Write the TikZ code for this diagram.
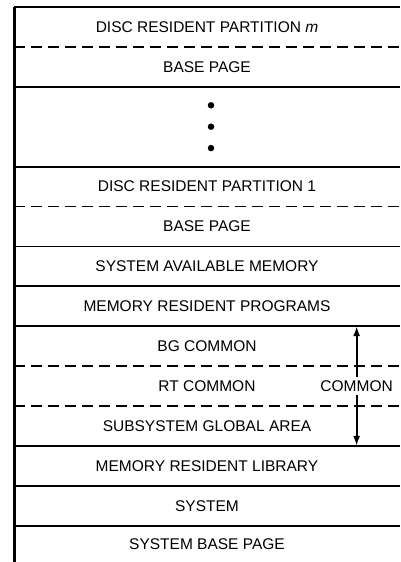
\documentclass[tikz,border=0pt]{standalone}
\usepackage{fontspec}
\setmainfont{Liberation Sans}
\usetikzlibrary{positioning,arrows.meta}

\begin{document}
\begin{tikzpicture}[x=1pt, y=-1pt, >={Latex[length=10pt,width=7pt]}, node distance=0pt,
    every node/.style={font=\fontsize{15.5}{18}\selectfont},
    rowbox/.style={minimum width=386pt, minimum height=39.9pt, inner sep=0pt, outer sep=0pt},
    split/.style={line width=1.8pt},
    softsplit/.style={line width=1.8pt, dash pattern=on 11pt off 6pt},
    dot/.style={circle, fill, inner sep=0pt, minimum size=6.5pt}]
  \useasboundingbox (0,0) rectangle (400,562);

  % memory map, top to bottom
  \node[rowbox, anchor=north] (partm) at (207,7) {DISC RESIDENT PARTITION \textit{m}};
  \node[rowbox, below=of partm] (basem) {BASE PAGE};
  \node[rowbox, minimum height=79.8pt, below=of basem] (gap) {};
  \node[rowbox, below=of gap] (part1) {DISC RESIDENT PARTITION 1};
  \node[rowbox, below=of part1] (base1) {BASE PAGE};
  \node[rowbox, below=of base1] (sam) {SYSTEM AVAILABLE MEMORY};
  \node[rowbox, below=of sam] (mrp) {MEMORY RESIDENT PROGRAMS};
  \node[rowbox, below=of mrp] (bgc) {BG COMMON};
  \node[rowbox, below=of bgc] (rtc) {RT COMMON};
  \node[rowbox, below=of rtc] (sga) {SUBSYSTEM GLOBAL AREA};
  \node[rowbox, below=of sga] (mrl) {MEMORY RESIDENT LIBRARY};
  \node[rowbox, below=of mrl] (sys) {SYSTEM};
  \node[rowbox, minimum height=36.3pt, below=of sys] (sbp) {SYSTEM BASE PAGE};

  % dots for the partitions in between
  \node[dot, xshift=4pt] (dot2) at (gap.center) {};
  \node[dot, above=14.5pt of dot2] (dot1) {};
  \node[dot, below=14.5pt of dot2] (dot3) {};

  % borders
  \draw[line width=3pt] (partm.north west) -- (sbp.south west);
  \draw[line width=2.4pt] (partm.north west) -- (partm.north east);
  \draw[softsplit] (partm.south west) -- (partm.south east);
  \draw[split] (basem.south west) -- (basem.south east);
  \draw[split] (gap.south west) -- (gap.south east);
  \draw[softsplit] (part1.south west) -- (part1.south east);
  \draw[split] (base1.south west) -- (base1.south east);
  \draw[split] (sam.south west) -- (sam.south east);
  \draw[split] (mrp.south west) -- (mrp.south east);
  \draw[softsplit] (bgc.south west) -- (bgc.south east);
  \draw[softsplit] (rtc.south west) -- (rtc.south east);
  \draw[split] (sga.south west) -- (sga.south east);
  \draw[split] (mrl.south west) -- (mrl.south east);
  \draw[split] (sys.south west) -- (sys.south east);

  % common area
  \node[anchor=east, xshift=-6pt, fill=white, inner xsep=1pt] (common) at (rtc.east) {COMMON};
  \draw[->, line width=1.8pt] (common.north) -- (common.north |- mrp.south);
  \draw[->, line width=1.8pt] (common.south) -- (common.south |- sga.south);
\end{tikzpicture}
\end{document}
